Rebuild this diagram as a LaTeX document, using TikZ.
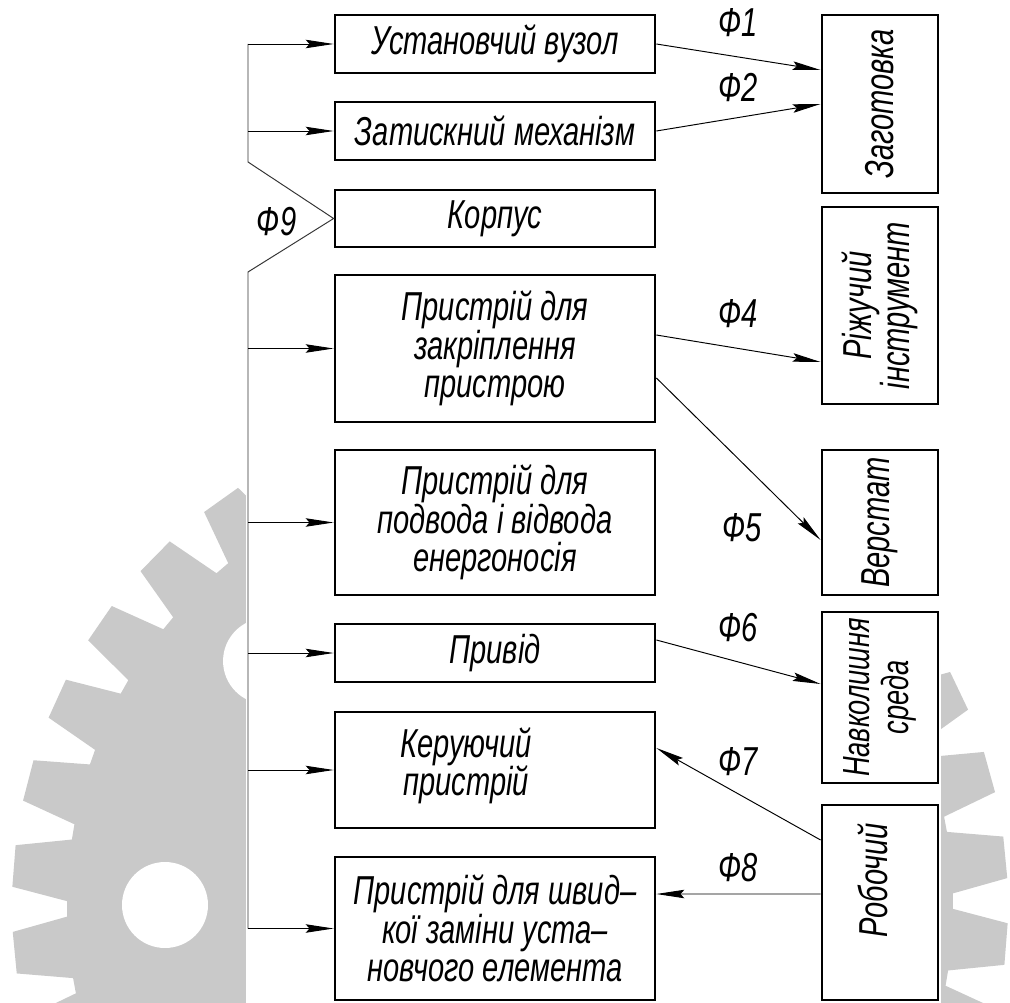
\documentclass[tikz,border=0pt]{standalone}
\usepackage{fontspec}
\newfontfamily\gostfont{Liberation Sans}[FakeStretch=0.72]
\newcommand{\gosttext}{\gostfont\itshape\fontsize{23}{21.8}\selectfont}
\usetikzlibrary{arrows.meta,positioning,calc}
\tikzset{
  funcbox/.style={
    draw=black, line width=1.6pt,
    minimum width=6.4cm, inner sep=2pt,
    align=center, font=\gosttext
  },
  objbox/.style={
    draw=black, line width=1.6pt,
    minimum width=2.32cm, inner sep=2pt
  },
  objtext/.style={rotate=90, align=center, font=\gosttext},
  flowlbl/.style={font=\gosttext, inner sep=1pt},
  flowarr/.style={-{Stealth[length=0.56cm,width=0.17cm,inset=0.08cm]},
                  draw=black, line width=0.55pt},
  bus/.style={draw=black!80, line width=0.55pt},
  gearfill/.style={fill=gray!42}
}
\begin{document}
\begin{tikzpicture}[x=0.02cm, y=-0.02cm]
  \useasboundingbox (0,0) rectangle (1010,1003);

  % gear in the background
  \begin{scope}
    \clip (0,0) rectangle (1010,1003);
    \begin{scope}[shift={(510,905)}]
      \fill[gearfill] (0.5:443)
        \foreach \a in {4.5,14.5,...,354.5} {
          -- ({\a-4}:443) -- ({\a-2.4}:498) -- ({\a+2.4}:498) -- ({\a+4}:443)
        } -- cycle;
      \foreach \h in {0,45,...,315}
        \fill[white] (\h:345) circle (0.86cm);
    \end{scope}
  \end{scope}
  \fill[white] (246,0) rectangle (941,1003);

  % functional parts
  \node[funcbox, minimum height=1.16cm] (ustan)  at (495,44)    {Установчий вузол};
  \node[funcbox, minimum height=1.16cm] (zatysk) at (495,131)   {Затискний механізм};
  \node[funcbox, minimum height=1.14cm] (korpus) at (495,218.5) {Корпус};
  \node[funcbox, minimum height=2.94cm] (zakr)   at (495,348.5) {Пристрій для\\закріплення\\пристрою};
  \node[funcbox, minimum height=2.90cm] (energ)  at (495,522.5) {Пристрій для\\подвода і відвода\\енергоносія};
  \node[funcbox, minimum height=1.16cm] (pryvid) at (495,653)   {Привід};
  \node[funcbox, minimum height=2.32cm] (keru)   at (495,770)   {};
  \node[flowlbl, align=center] at ([xshift=-0.58cm,yshift=0.08cm]keru.center) {Керуючий\\пристрій};
  \node[funcbox, minimum height=2.86cm] (zamina) at (495,928.5) {Пристрій для швид–\\кої заміни уста–\\новчого елемента};

  % outer objects
  \node[objbox, minimum height=3.56cm] (zagot) at (880,104)   {};
  \node[objbox, minimum height=3.94cm] (rizh)  at (880,305.5) {};
  \node[objbox, minimum height=2.90cm] (verst) at (880,522.5) {};
  \node[objbox, minimum height=3.42cm] (navk)  at (880,697.5) {};
  \node[objbox, minimum height=3.90cm] (robo)  at (880,902.5) {};
  \node[objtext] at (zagot) {Заготовка};
  \node[objtext] at (rizh)  {Ріжучий\\інструмент};
  \node[objtext] at (verst) {Верстат};
  \node[objtext, font=\gostfont\itshape\fontsize{21.5}{22.5}\selectfont] at (navk) {Навколишня\\среда};
  \node[objtext] at ([xshift=-0.14cm,yshift=0.44cm]robo.center) {Робочий};

  % body links
  \coordinate (busa) at (248,162);
  \coordinate (busb) at (248,272);
  \draw[bus] (ustan.west -| busa) -- (busa) -- (korpus.west) -- (busb)
    -- (zamina.west -| busb);
  \node[flowlbl] (phi9) at ([xshift=-1.14cm,yshift=-0.07cm]korpus.west) {Ф9};
  \foreach \n in {ustan,zatysk,zakr,energ,pryvid,keru,zamina}
    \draw[flowarr] (\n.west -| busa) -- (\n.west);

  % functions
  \draw[flowarr] (ustan.east) -- ([yshift=0.68cm]zagot.west)
    node[flowlbl, midway, yshift=0.68cm]{Ф1};
  \draw[flowarr] (zatysk.east) -- (zagot.west)
    node[flowlbl, midway, yshift=0.6cm]{Ф2};
  \draw[flowarr] ([yshift=0.27cm]zakr.east) -- ([yshift=-1.13cm]rizh.west)
    node[flowlbl, midway, yshift=0.7cm]{Ф4};
  \draw[flowarr] ([yshift=-0.59cm]zakr.east) -- ([yshift=-0.35cm]verst.west)
    node[flowlbl, midway, xshift=0.07cm, yshift=-1.38cm]{Ф5};
  \draw[flowarr] ([yshift=0.26cm]pryvid.east) -- ([yshift=0.27cm]navk.west)
    node[flowlbl, midway, yshift=0.68cm]{Ф6};
  \draw[flowarr] ([yshift=1.25cm]robo.west) -- ([yshift=0.44cm]keru.east)
    node[flowlbl, midway, yshift=0.64cm]{Ф7};
  \draw[flowarr] ([yshift=0.17cm]robo.west) -- ([yshift=0.69cm]zamina.east)
    node[flowlbl, midway, yshift=0.52cm]{Ф8};
\end{tikzpicture}
\end{document}
